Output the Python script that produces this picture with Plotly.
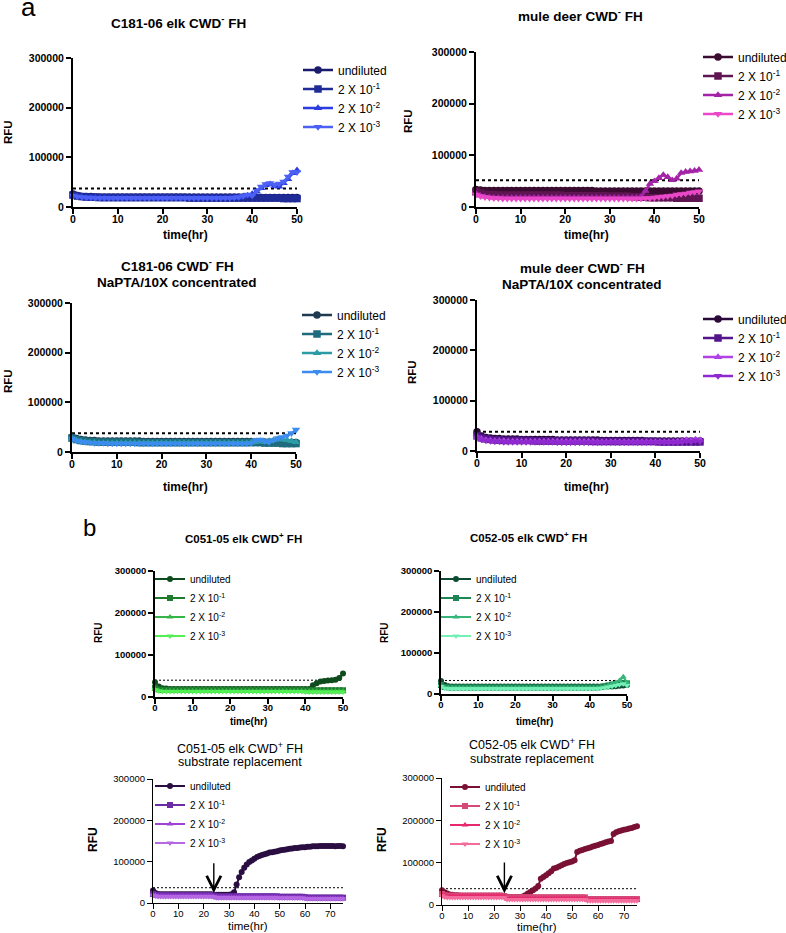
import plotly.graph_objects as go

# ---------------------------------------------------------------- data
# time grids (hours)
hours_50 = [0, 1, 2, 3, 4, 5, 6, 7, 8, 9,
            10, 11, 12, 13, 14, 15, 16, 17, 18, 19,
            20, 21, 22, 23, 24, 25, 26, 27, 28, 29,
            30, 31, 32, 33, 34, 35, 36, 37, 38, 39,
            40, 41, 42, 43, 44, 45, 46, 47, 48, 49,
            50]
hours_75 = [0, 1, 2, 3, 4, 5, 6, 7, 8, 9,
            10, 11, 12, 13, 14, 15, 16, 17, 18, 19,
            20, 21, 22, 23, 24, 25, 26, 27, 28, 29,
            30, 31, 32, 33, 34, 35, 36, 37, 38, 39,
            40, 41, 42, 43, 44, 45, 46, 47, 48, 49,
            50, 51, 52, 53, 54, 55, 56, 57, 58, 59,
            60, 61, 62, 63, 64, 65, 66, 67, 68, 69,
            70, 71, 72, 73, 74, 75]

series_names = ["undiluted", "2 X 10<sup>-1</sup>", "2 X 10<sup>-2</sup>", "2 X 10<sup>-3</sup>"]
rfu_ticks = [0, 100000, 200000, 300000]
hour_ticks_50 = [0, 10, 20, 30, 40, 50]
hour_ticks_75 = [0, 10, 20, 30, 40, 50, 60, 70]

# RFU values in thousands
# a1: C181-06 elk CWD- FH
elk_neg_undiluted = [26, 23, 21, 21, 21, 20, 20, 20, 20, 20,
                     20, 20, 20, 20, 20, 20, 20, 20, 20, 20,
                     20, 20, 20, 20, 20, 20, 20, 20, 20, 20,
                     20, 20, 20, 20, 20, 20, 20, 20, 20, 20,
                     20, 19, 19, 19, 19, 19, 19, 19, 19, 19,
                     19]
elk_neg_d1 = [24, 22, 21, 20, 20, 20, 19, 19, 19, 19,
              19, 19, 19, 19, 19, 19, 19, 19, 19, 19,
              19, 19, 19, 19, 19, 19, 18, 18, 18, 18,
              18, 18, 18, 18, 18, 18, 18, 18, 18, 18,
              18, 18, 18, 18, 18, 18, 18, 17, 17, 17,
              17]
elk_neg_d2 = [23, 21, 20, 19, 19, 19, 19, 19, 18, 18,
              18, 18, 18, 18, 18, 18, 18, 18, 18, 18,
              18, 18, 18, 18, 18, 18, 18, 18, 18, 18,
              18, 18, 18, 18, 18, 18, 19, 19, 21, 23,
              26, 31, 38, 44, 46, 42, 41, 48, 56, 68,
              74]
elk_neg_d3 = [23, 21, 20, 19, 19, 18, 18, 18, 18, 18,
              18, 18, 18, 18, 18, 18, 18, 18, 18, 18,
              18, 18, 18, 18, 18, 18, 18, 18, 18, 18,
              18, 18, 18, 18, 18, 18, 19, 20, 22, 25,
              23, 33, 41, 46, 48, 45, 47, 51, 61, 70,
              70]

# a2: mule deer CWD- FH
mule_neg_undiluted = [34, 33, 32, 32, 32, 32, 32, 32, 32, 32,
                      32, 32, 32, 32, 32, 32, 32, 32, 32, 32,
                      32, 32, 32, 32, 32, 32, 32, 31, 31, 31,
                      31, 31, 31, 31, 31, 31, 31, 31, 31, 31,
                      31, 31, 31, 31, 31, 31, 31, 31, 31, 31,
                      31]
mule_neg_d1 = [30, 27, 25, 24, 24, 23, 23, 23, 23, 23,
               23, 23, 23, 23, 23, 23, 23, 23, 23, 23,
               22, 22, 22, 22, 22, 22, 22, 22, 22, 22,
               21, 21, 21, 21, 21, 20, 20, 19, 19, 18,
               18, 18, 18, 18, 18, 17, 17, 17, 17, 17,
               17]
mule_neg_d2 = [26, 22, 20, 19, 18, 18, 18, 18, 18, 18,
               18, 18, 18, 18, 18, 18, 18, 18, 18, 18,
               18, 18, 18, 18, 18, 18, 18, 18, 18, 18,
               18, 18, 18, 18, 18, 18, 18, 20, 31, 45,
               50, 56, 62, 58, 52, 55, 66, 68, 69, 70,
               72]
mule_neg_d3 = [24, 21, 19, 18, 17, 17, 16, 16, 16, 16,
               16, 16, 16, 16, 16, 16, 16, 16, 16, 16,
               16, 16, 16, 16, 16, 16, 16, 16, 16, 16,
               16, 16, 16, 16, 16, 16, 16, 16, 17, 17,
               18, 19, 20, 21, 22, 24, 25, 26, 28, 29,
               30]

# a3: C181-06 CWD- FH NaPTA/10X concentrated
elk_conc_undiluted = [30, 27, 25, 24, 23, 23, 22, 22, 22, 22,
                      22, 22, 22, 22, 22, 22, 21, 21, 21, 21,
                      21, 21, 21, 21, 21, 21, 21, 21, 21, 21,
                      21, 21, 21, 21, 21, 21, 21, 21, 21, 21,
                      21, 20, 20, 20, 20, 20, 19, 19, 19, 19,
                      19]
elk_conc_d1 = [28, 25, 23, 22, 21, 21, 20, 20, 20, 20,
               20, 20, 20, 20, 20, 19, 19, 19, 19, 19,
               19, 19, 19, 19, 19, 19, 19, 19, 19, 19,
               19, 19, 19, 19, 19, 19, 19, 19, 19, 19,
               19, 19, 19, 18, 18, 18, 18, 17, 17, 17,
               17]
elk_conc_d2 = [27, 23, 21, 20, 19, 19, 18, 18, 18, 18,
               18, 18, 18, 18, 18, 18, 18, 18, 18, 18,
               18, 18, 18, 18, 18, 18, 18, 18, 18, 18,
               18, 18, 18, 18, 18, 18, 18, 18, 18, 18,
               19, 20, 22, 20, 22, 24, 26, 25, 24, 22,
               20]
elk_conc_d3 = [27, 23, 21, 20, 19, 18, 18, 18, 17, 17,
               17, 17, 17, 17, 17, 17, 17, 17, 17, 17,
               17, 17, 17, 17, 17, 17, 17, 17, 17, 17,
               17, 17, 17, 17, 17, 17, 17, 17, 17, 17,
               18, 24, 25, 22, 20, 24, 28, 30, 33, 38,
               45]

# a4: mule deer CWD- FH NaPTA/10X concentrated
mule_conc_undiluted = [38, 30, 27, 26, 25, 25, 24, 24, 24, 24,
                       23, 23, 23, 23, 23, 23, 23, 23, 22, 22,
                       22, 22, 22, 22, 22, 22, 22, 22, 21, 21,
                       21, 21, 21, 21, 21, 21, 21, 21, 20, 20,
                       20, 20, 20, 20, 20, 20, 20, 20, 20, 20,
                       20]
mule_conc_d1 = [30, 26, 24, 23, 22, 22, 21, 21, 21, 21,
                21, 21, 21, 20, 20, 20, 20, 20, 20, 20,
                20, 20, 20, 20, 20, 20, 19, 19, 19, 19,
                19, 19, 19, 19, 19, 19, 19, 19, 19, 19,
                19, 18, 18, 18, 18, 18, 18, 18, 18, 18,
                18]
mule_conc_d2 = [28, 24, 22, 21, 20, 20, 20, 19, 19, 19,
                19, 19, 19, 19, 19, 19, 19, 19, 19, 19,
                19, 19, 19, 19, 19, 19, 19, 18, 18, 18,
                18, 18, 18, 18, 18, 18, 18, 18, 18, 18,
                18, 18, 18, 18, 18, 19, 20, 22, 21, 23,
                22]
mule_conc_d3 = [27, 23, 21, 20, 19, 19, 18, 18, 18, 18,
                18, 18, 18, 18, 18, 18, 18, 18, 17, 17,
                17, 17, 17, 17, 17, 17, 17, 17, 17, 17,
                17, 17, 17, 17, 17, 17, 17, 17, 17, 17,
                17, 17, 17, 17, 17, 17, 18, 20, 18, 21,
                19]

# b1: C051-05 elk CWD+ FH
c051_undiluted = [35, 25, 21, 20, 19, 19, 19, 19, 19, 19,
                  19, 19, 19, 19, 19, 19, 19, 19, 19, 19,
                  19, 19, 19, 19, 19, 19, 19, 19, 19, 19,
                  19, 19, 19, 19, 19, 19, 19, 19, 19, 19,
                  19, 19, 28, 33, 37, 38, 39, 40, 41, 45,
                  56]
c051_d1 = [22, 18, 17, 17, 17, 17, 17, 17, 17, 17,
           17, 17, 17, 17, 17, 17, 17, 17, 17, 17,
           17, 17, 17, 17, 17, 17, 17, 17, 17, 17,
           17, 17, 17, 17, 17, 17, 17, 17, 17, 17,
           16, 16, 16, 16, 16, 16, 16, 16, 16, 16,
           16]
c051_d2 = [19, 16, 15, 15, 15, 15, 15, 15, 15, 15,
           15, 15, 15, 15, 15, 15, 15, 15, 15, 15,
           15, 15, 15, 15, 15, 15, 15, 15, 15, 15,
           15, 15, 15, 15, 15, 15, 15, 15, 15, 15,
           14, 14, 14, 14, 14, 14, 14, 14, 14, 14,
           14]
c051_d3 = [17, 14, 13, 13, 13, 13, 13, 13, 13, 13,
           13, 13, 13, 13, 13, 13, 13, 13, 13, 13,
           13, 13, 13, 13, 13, 13, 13, 13, 13, 13,
           13, 13, 13, 13, 13, 13, 13, 13, 13, 13,
           12, 12, 12, 12, 12, 12, 12, 12, 12, 12,
           12]

# b2: C052-05 elk CWD+ FH
c052_undiluted = [32, 22, 19, 18, 18, 18, 18, 18, 18, 18,
                  18, 18, 18, 18, 18, 18, 18, 18, 18, 18,
                  18, 18, 18, 18, 18, 18, 18, 18, 18, 18,
                  18, 18, 18, 18, 18, 18, 18, 18, 18, 18,
                  18, 18, 18, 18, 18, 18, 18, 19, 20, 21,
                  22]
c052_d1 = [22, 17, 16, 16, 16, 16, 16, 16, 16, 16,
           16, 16, 16, 16, 16, 16, 16, 16, 16, 16,
           16, 16, 16, 16, 16, 16, 16, 16, 16, 16,
           16, 16, 16, 16, 16, 16, 16, 16, 16, 16,
           16, 16, 16, 17, 19, 21, 23, 24, 26, 27,
           26]
c052_d2 = [20, 16, 15, 15, 15, 15, 15, 15, 15, 15,
           15, 15, 15, 15, 15, 15, 15, 15, 15, 15,
           15, 15, 15, 15, 15, 15, 15, 15, 15, 15,
           15, 15, 15, 15, 15, 15, 15, 15, 15, 15,
           15, 15, 15, 16, 18, 21, 25, 28, 33, 42,
           28]
c052_d3 = [18, 14, 13, 13, 13, 13, 13, 13, 13, 13,
           13, 13, 13, 13, 13, 13, 13, 13, 13, 13,
           13, 13, 13, 13, 13, 13, 13, 13, 13, 13,
           13, 13, 13, 13, 13, 13, 13, 13, 13, 13,
           13, 13, 13, 14, 15, 17, 19, 21, 23, 25,
           21]

# b3: C051-05 elk CWD+ FH, substrate replacement
c051_sr_undiluted = [30, 24, 22, 21, 21, 21, 21, 21, 21, 21,
                     21, 21, 21, 21, 21, 21, 21, 21, 21, 21,
                     21, 21, 21, 21, 20, 20, 20, 20, 20, 20,
                     20, 21, 26, 45, 62, 75, 85, 93, 99, 103,
                     107, 111, 114, 116, 118, 120, 122, 123, 124, 125,
                     127, 128, 129, 130, 131, 132, 133, 133, 134, 135,
                     135, 136, 136, 137, 137, 137, 138, 138, 138, 138,
                     138, 138, 137, 138, 138, 137]
c051_sr_d1 = [22, 20, 19, 19, 19, 19, 19, 19, 19, 19,
              19, 19, 19, 19, 19, 19, 19, 19, 19, 19,
              19, 19, 19, 19, 18, 16, 16, 16, 16, 16,
              16, 16, 16, 16, 16, 16, 16, 16, 16, 16,
              16, 16, 16, 16, 16, 16, 16, 16, 16, 16,
              15, 15, 15, 15, 15, 15, 15, 15, 15, 15,
              14, 13, 13, 13, 13, 13, 13, 13, 13, 13,
              13, 13, 13, 13, 13, 13]
c051_sr_d2 = [20, 18, 17, 17, 17, 17, 17, 17, 17, 17,
              17, 17, 17, 17, 17, 17, 17, 17, 17, 17,
              17, 17, 17, 17, 16, 14, 14, 14, 14, 14,
              14, 14, 14, 14, 14, 14, 14, 14, 14, 14,
              14, 14, 14, 14, 14, 14, 14, 14, 14, 14,
              13, 13, 13, 13, 13, 13, 13, 13, 13, 13,
              12, 11, 11, 11, 11, 11, 11, 11, 11, 11,
              11, 11, 11, 11, 11, 11]
c051_sr_d3 = [19, 17, 16, 16, 16, 16, 16, 16, 16, 16,
              16, 16, 16, 16, 16, 16, 16, 16, 16, 16,
              16, 16, 16, 16, 15, 13, 13, 13, 13, 13,
              13, 13, 13, 13, 13, 13, 13, 13, 13, 13,
              13, 13, 13, 13, 13, 13, 13, 13, 13, 13,
              12, 12, 12, 12, 12, 12, 12, 12, 12, 12,
              11, 10, 10, 10, 10, 10, 10, 10, 10, 10,
              10, 10, 10, 10, 10, 10]

# b4: C052-05 elk CWD+ FH, substrate replacement
c052_sr_undiluted = [35, 30, 27, 25, 24, 23, 23, 22, 22, 22,
                     22, 22, 22, 22, 22, 22, 22, 22, 22, 22,
                     22, 22, 22, 22, 21, 19, 19, 19, 19, 19,
                     19, 20, 23, 27, 31, 35, 39, 45, 62, 66,
                     70, 75, 80, 86, 88, 91, 94, 97, 99, 101,
                     103, 106, 125, 128, 130, 132, 134, 136, 138, 140,
                     142, 144, 146, 148, 150, 151, 168, 172, 174, 176,
                     178, 179, 181, 182, 184, 186]
c052_sr_d1 = [26, 23, 22, 22, 22, 22, 22, 22, 22, 22,
              22, 22, 22, 22, 22, 22, 22, 22, 22, 22,
              22, 22, 22, 22, 21, 18, 18, 18, 18, 18,
              18, 18, 18, 18, 18, 18, 18, 18, 18, 18,
              18, 18, 18, 18, 18, 18, 18, 18, 18, 18,
              18, 18, 18, 18, 18, 18, 14, 14, 14, 14,
              14, 14, 14, 14, 14, 14, 14, 14, 14, 14,
              14, 14, 14, 14, 14, 14]
c052_sr_d2 = [24, 21, 20, 20, 20, 20, 20, 20, 20, 20,
              20, 20, 20, 20, 20, 20, 20, 20, 20, 20,
              20, 20, 20, 20, 19, 15, 15, 15, 15, 15,
              15, 15, 15, 15, 15, 15, 15, 15, 15, 15,
              15, 15, 15, 15, 15, 15, 15, 15, 15, 15,
              15, 15, 15, 15, 15, 15, 11, 11, 11, 11,
              11, 11, 11, 11, 11, 11, 11, 11, 11, 11,
              11, 11, 11, 11, 11, 11]
c052_sr_d3 = [22, 19, 18, 18, 18, 18, 18, 18, 18, 18,
              18, 18, 18, 18, 18, 18, 18, 18, 18, 18,
              18, 18, 18, 18, 17, 13, 13, 13, 13, 13,
              13, 13, 13, 13, 13, 13, 13, 13, 13, 13,
              13, 13, 13, 13, 13, 13, 13, 13, 13, 13,
              13, 13, 13, 13, 13, 13, 10, 10, 10, 10,
              10, 10, 10, 10, 10, 10, 10, 10, 10, 10,
              10, 10, 10, 10, 10, 10]

threshold_k = [37, 52, 38, 38, 40, 33, 37, 38.5]       # dotted cut-off lines
replacement_hour = 24                                  # substrate replacement (arrow)
arrow_top_k = [100, 104]
arrow_tip_k = [24, 28]

panel_titles = [
    ["C181-06 elk CWD<sup>-</sup> FH"],
    ["mule deer CWD<sup>-</sup> FH"],
    ["C181-06 CWD<sup>-</sup> FH", "NaPTA/10X concentrated"],
    ["mule deer CWD<sup>-</sup> FH", "NaPTA/10X concentrated"],
    ["C051-05 elk CWD<sup>+</sup> FH"],
    ["C052-05 elk CWD<sup>+</sup> FH"],
    ["C051-05 elk CWD<sup>+</sup> FH", "substrate replacement"],
    ["C052-05 elk CWD<sup>+</sup> FH", "substrate replacement"],
]

# ---------------------------------------------------------------- layout / style
W, H = 786, 933
FONT = "Liberation Sans, Arial, Helvetica, sans-serif"
SYMBOLS = ["circle", "square", "triangle-up", "triangle-down"]
LEG_DX, LEG_DY = 40, 14.5   # legend box offset -> first text start / first row centre

def fx(px):
    return px / W

def fy(py):
    return 1 - py / H

style_a = dict(lw=2.5, ms=7.5, aw=2, tick=10.5, tickw="bold", leg=12, dot=2, dash="dot")
style_bt = dict(lw=2, ms=6, aw=1.5, tick=9.5, tickw="bold", leg=10, dot=1, dash="2px,2px")
style_bb = dict(lw=2, ms=6, aw=1.2, tick=9.5, tickw="normal", leg=10, dot=1, dash="2px,2px")

panels = [
    dict(series=[elk_neg_undiluted, elk_neg_d1, elk_neg_d2, elk_neg_d3], hours=hours_50,
         colors=["#1b1b6e", "#1f2b96", "#2b3de2", "#4c60f4"], box=(73, 297, 58, 207),
         xmax=50, xt=hour_ticks_50, st=style_a, leg=(338, 70),
         title_xy=[(178, 22)], title_size=13.5, title_w="bold",
         rfu=(8, 132, 11.5, "bold"), time=(185, 235, 12, "bold")),
    dict(series=[mule_neg_undiluted, mule_neg_d1, mule_neg_d2, mule_neg_d3], hours=hours_50,
         colors=["#3a0c30", "#5e1552", "#a424a8", "#ea48c8"], box=(476, 699, 52, 207),
         xmax=50, xt=hour_ticks_50, st=style_a, leg=(738, 57),
         title_xy=[(580, 15)], title_size=13.5, title_w="bold",
         rfu=(408, 121, 11.5, "bold"), time=(586, 235, 12, "bold")),
    dict(series=[elk_conc_undiluted, elk_conc_d1, elk_conc_d2, elk_conc_d3], hours=hours_50,
         colors=["#1f3b52", "#1d6b7c", "#2b9ca6", "#3c8cf0"], box=(72, 296, 303, 452),
         xmax=50, xt=hour_ticks_50, st=style_a, leg=(337, 315),
         title_xy=[(177, 265), (177, 282)], title_size=13.5, title_w="bold",
         rfu=(8, 381, 11.5, "bold"), time=(185, 487, 12, "bold")),
    dict(series=[mule_conc_undiluted, mule_conc_d1, mule_conc_d2, mule_conc_d3], hours=hours_50,
         colors=["#2a0838", "#53168a", "#b042e8", "#8f2ad0"], box=(477, 700, 300, 451),
         xmax=50, xt=hour_ticks_50, st=style_a, leg=(738, 319),
         title_xy=[(582, 267), (582, 284)], title_size=13.5, title_w="bold",
         rfu=(412, 372, 11.5, "bold"), time=(586, 487, 12, "bold")),
    dict(series=[c051_undiluted, c051_d1, c051_d2, c051_d3], hours=hours_50,
         colors=["#0e4c1e", "#1e7c2c", "#36b446", "#52f052"], box=(155, 343, 571, 697),
         xmax=50, xt=hour_ticks_50, st=style_bt, leg=(190, 579),
         title_xy=[(243, 538)], title_size=11.5, title_w="bold",
         rfu=(98, 633, 10, "bold"), time=(249, 721, 10, "bold")),
    dict(series=[c052_undiluted, c052_d1, c052_d2, c052_d3], hours=hours_50,
         colors=["#0e4c32", "#1e8554", "#36b578", "#74f0b6"], box=(441, 627, 571, 694),
         xmax=50, xt=hour_ticks_50, st=style_bt, leg=(476, 579),
         title_xy=[(528, 537)], title_size=11.5, title_w="bold",
         rfu=(384, 633, 10, "bold"), time=(534, 721, 10, "bold")),
    dict(series=[c051_sr_undiluted, c051_sr_d1, c051_sr_d2, c051_sr_d3], hours=hours_75,
         colors=["#2a0e42", "#6c2ca6", "#9e42d6", "#b468e2"], box=(153, 343, 779, 903),
         xmax=75, xt=hour_ticks_75, st=style_bb, leg=(190, 786),
         title_xy=[(240, 748), (240, 762)], title_size=12.5, title_w="normal",
         rfu=(93, 840, 12, "bold"), time=(248, 926, 11.5, "normal")),
    dict(series=[c052_sr_undiluted, c052_sr_d1, c052_sr_d2, c052_sr_d3], hours=hours_75,
         colors=["#7a1034", "#d64878", "#e8286c", "#f46c9c"], box=(442, 637, 778, 905),
         xmax=75, xt=hour_ticks_75, st=style_bb, leg=(485, 787),
         title_xy=[(532, 744), (532, 759)], title_size=12.5, title_w="normal",
         rfu=(382, 840, 12, "bold"), time=(537, 927, 11.5, "normal")),
]

fig = go.Figure()
layout = {}
shapes = []
annotations = []

for i, p in enumerate(panels, start=1):
    sfx = "" if i == 1 else str(i)
    xa, ya = "x" + sfx, "y" + sfx
    legname = "legend" + sfx
    st = p["st"]
    for vals, name, sym, col in zip(p["series"], series_names, SYMBOLS, p["colors"]):
        fig.add_trace(go.Scatter(
            x=p["hours"], y=[v * 1000 for v in vals], name=name,
            mode="lines+markers", xaxis=xa, yaxis=ya, legend=legname,
            line=dict(color=col, width=st["lw"]),
            marker=dict(symbol=sym, size=st["ms"], color=col, line=dict(width=0)),
            cliponaxis=False, hoverinfo="skip"))
    l, r, t, b = p["box"]
    tickfont = dict(family=FONT, size=st["tick"], color="black", weight=st["tickw"])
    common = dict(showline=True, linecolor="black", linewidth=st["aw"], ticks="outside",
                  ticklen=5, tickwidth=st["aw"], tickcolor="black", showgrid=False,
                  zeroline=False, tickfont=tickfont, fixedrange=True)
    layout["xaxis" + sfx] = dict(domain=[fx(l), fx(r)], range=[0, p["xmax"]], anchor=ya,
                                 tickvals=p["xt"], ticklabelstandoff=-4, **common)
    layout["yaxis" + sfx] = dict(domain=[fy(b), fy(t)], range=[0, 300000], anchor=xa,
                                 tickvals=rfu_ticks, tickformat="d", **common)
    lx, ly = p["leg"]
    layout[legname] = dict(x=fx(lx - LEG_DX), y=fy(ly - LEG_DY), xanchor="left", yanchor="top",
                           bgcolor="rgba(0,0,0,0)", borderwidth=0, tracegroupgap=0,
                           font=dict(family=FONT, size=st["leg"], color="black"))
    shapes.append(dict(type="line", xref=xa, yref=ya, x0=0, x1=p["xmax"],
                       y0=threshold_k[i - 1] * 1000, y1=threshold_k[i - 1] * 1000,
                       layer="below", line=dict(color="black", width=st["dot"], dash=st["dash"])))
    for txt, (tx, ty) in zip(panel_titles[i - 1], p["title_xy"]):
        annotations.append(dict(text=txt, x=fx(tx), y=fy(ty), xref="paper", yref="paper",
                                showarrow=False, xanchor="center", yanchor="middle",
                                font=dict(family=FONT, size=p["title_size"], color="black",
                                          weight=p["title_w"])))
    rx, ry, rs, rw = p["rfu"]
    annotations.append(dict(text="RFU", x=fx(rx), y=fy(ry), xref="paper", yref="paper",
                            showarrow=False, textangle=-90, xanchor="center", yanchor="middle",
                            font=dict(family=FONT, size=rs, color="black", weight=rw)))
    tx, ty, ts, tw = p["time"]
    annotations.append(dict(text="time(hr)", x=fx(tx), y=fy(ty), xref="paper", yref="paper",
                            showarrow=False, xanchor="center", yanchor="middle",
                            font=dict(family=FONT, size=ts, color="black", weight=tw)))

# substrate-replacement arrows
for k, i in enumerate([7, 8]):
    annotations.append(dict(text="", x=replacement_hour, y=arrow_tip_k[k] * 1000,
                            ax=replacement_hour, ay=arrow_top_k[k] * 1000,
                            xref="x%d" % i, yref="y%d" % i, axref="x%d" % i, ayref="y%d" % i,
                            showarrow=True, arrowhead=5, arrowsize=2, arrowwidth=1.4,
                            arrowcolor="black"))

# panel letters
annotations.append(dict(text="a", x=fx(28), y=fy(7), xref="paper", yref="paper", showarrow=False,
                        xanchor="center", yanchor="middle",
                        font=dict(family=FONT, size=26, color="black")))
annotations.append(dict(text="b", x=fx(89), y=fy(527), xref="paper", yref="paper", showarrow=False,
                        xanchor="center", yanchor="middle",
                        font=dict(family=FONT, size=24, color="black")))

fig.update_layout(width=W, height=H,
                  margin=dict(l=0, r=0, t=0, b=0, autoexpand=False),
                  plot_bgcolor="white", paper_bgcolor="white",
                  showlegend=True, shapes=shapes, annotations=annotations, **layout)

fig.write_html("out.html", config={"displayModeBar": False},
               post_script="document.body.style.margin='0px';")
